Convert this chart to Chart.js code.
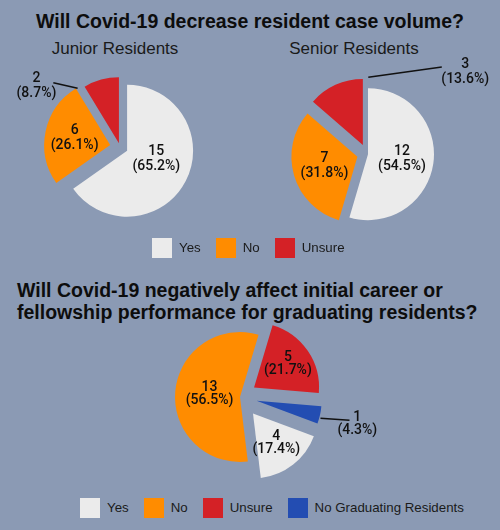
<!DOCTYPE html>
<html><head><meta charset="utf-8">
<script src="https://cdn.jsdelivr.net/npm/chart.js@4/dist/chart.umd.min.js"></script>
<style>
html,body{margin:0;padding:0;}
body{width:500px;height:530px;background:#8b9ab4;position:relative;overflow:hidden;font-family:"Liberation Sans",Arial,sans-serif;color:#141414;}
.abs{position:absolute;}
.title{font-weight:bold;font-size:19.5px;line-height:22px;white-space:nowrap;color:#0d0d0d;}
.sub{font-size:17px;line-height:20px;white-space:nowrap;color:#1a1a1a;}
canvas{position:absolute;}
.legend{position:absolute;display:flex;align-items:center;height:21px;font-size:13.3px;white-space:nowrap;color:#1a1a1a;}
.legend .box{width:20px;height:20px;margin-right:7px;}
.legend .item{display:flex;align-items:center;margin-right:15px;}
</style></head>
<body>
<div class="abs title" style="left:0;width:500px;text-align:center;top:10px;">Will Covid-19 decrease resident case volume?</div>
<div class="abs sub" style="left:15px;width:200px;text-align:center;top:39px;">Junior Residents</div>
<div class="abs sub" style="left:254px;width:200px;text-align:center;top:39px;">Senior Residents</div>
<div class="abs title" style="left:17px;top:279px;">Will Covid-19 negatively affect initial career or<br>fellowship performance for graduating residents?</div>
<canvas id="cJunior" width="240" height="190" style="left:0;top:52px;"></canvas>
<canvas id="cSenior" width="250" height="200" style="left:242px;top:54px;"></canvas>
<canvas id="cCareer" width="280" height="180" style="left:100px;top:307px;"></canvas>
<div class="legend" id="legend1" style="left:152px;top:237px;"></div>
<div class="legend" id="legend2" style="left:80px;top:497px;"></div>
<script>
// ---- data ----
const caseCategories = ['Yes', 'No', 'Unsure'];
const juniorValues = [15, 6, 2];
const seniorValues = [12, 7, 3];
const careerCategories = ['Yes', 'No', 'Unsure', 'No Graduating Residents'];
const careerValues = [4, 13, 5, 1];

// ---- styles ----
const sliceColors = {
  'Yes': '#ebebeb',
  'No': '#ff8c00',
  'Unsure': '#d42126',
  'No Graduating Residents': '#234db2'
};
const labelFont = '500 14px Roboto, "Liberation Sans", sans-serif';

function buildLegend(el, cats) {
  cats.forEach(c => {
    const item = document.createElement('div');
    item.className = 'item';
    const box = document.createElement('div');
    box.className = 'box';
    box.style.background = sliceColors[c];
    const txt = document.createElement('span');
    txt.textContent = c;
    item.appendChild(box); item.appendChild(txt);
    el.appendChild(item);
  });
}
buildLegend(document.getElementById('legend1'), caseCategories);
buildLegend(document.getElementById('legend2'), careerCategories);

function explodePlugin(amounts) {
  return {
    id: 'explodeSlices',
    afterDatasetUpdate(chart, args) {
      args.meta.data.forEach((arc, i) => {
        const t = amounts[i] || 0;
        const mid = (arc.startAngle + arc.endAngle) / 2;
        arc.x += Math.cos(mid) * t;
        arc.y += Math.sin(mid) * t;
      });
    }
  };
}

function labelPlugin(cfg) {
  return {
    id: 'sliceLabels',
    afterDatasetsDraw(chart) {
      const ctx = chart.ctx;
      const meta = chart.getDatasetMeta(0);
      const values = chart.data.datasets[0].data;
      const total = values.reduce((a, b) => a + b, 0);
      ctx.save();
      ctx.font = labelFont;
      ctx.fillStyle = '#111';
      ctx.strokeStyle = '#111';
      ctx.textAlign = 'center';
      ctx.textBaseline = 'middle';
      meta.data.forEach((arc, i) => {
        const v = values[i];
        const lines = [String(v), '(' + (v / total * 100).toFixed(1) + '%)'];
        const r = arc.outerRadius;
        const at = (deg, f) => {
          const a = deg * Math.PI / 180;
          return [arc.x + Math.sin(a) * r * f, arc.y - Math.cos(a) * r * f];
        };
        let pos;
        const out = cfg.outside[i];
        if (out) {
          const p1 = at(out.lineFrom[0], out.lineFrom[1]);
          const p2 = at(out.lineTo[0], out.lineTo[1]);
          ctx.beginPath();
          ctx.moveTo(p1[0], p1[1]);
          ctx.lineTo(p2[0], p2[1]);
          ctx.lineWidth = 1.5;
          ctx.stroke();
          pos = at(out.text[0], out.text[1]);
        } else {
          const mid = (arc.startAngle + arc.endAngle) / 2 + ((cfg.shift && cfg.shift[i]) || 0) * Math.PI / 180;
          const f = cfg.radius[i];
          pos = [arc.x + Math.cos(mid) * r * f, arc.y + Math.sin(mid) * r * f];
        }
        const lh = cfg.lineHeight;
        ctx.fillText(lines[0], pos[0], pos[1] - lh / 2);
        ctx.fillText(lines[1], pos[0], pos[1] + lh / 2);
      });
      ctx.restore();
    }
  };
}

function makePie(id, cats, values, opt) {
  return new Chart(document.getElementById(id), {
    type: 'pie',
    data: {
      labels: cats,
      datasets: [{
        data: values,
        backgroundColor: cats.map(c => sliceColors[c]),
        borderWidth: 0
      }]
    },
    options: {
      responsive: false,
      maintainAspectRatio: false,
      animation: false,
      radius: opt.radius,
      rotation: opt.rotation,
      layout: { padding: 0 },
      events: [],
      plugins: {
        legend: { display: false },
        tooltip: { enabled: false },
        title: { display: false }
      }
    },
    plugins: [explodePlugin(opt.explode), labelPlugin(opt.labels)]
  });
}

makePie('cJunior', caseCategories, juniorValues, {
  radius: 66, rotation: 0,
  explode: [8, 10, 4],
  labels: {
    lineHeight: 15,
    radius: [0.46, 0.55, 0.5],
    shift: [-11.6, 0, 0],
    outside: { 2: { lineFrom: [323, 1.04], lineTo: [312.6, 1.35], text: [304.7, 1.52] } }
  }
});

makePie('cSenior', caseCategories, seniorValues, {
  radius: 66, rotation: 0,
  explode: [1, 10, 10],
  labels: {
    lineHeight: 15,
    radius: [0.52, 0.52, 0.5],
    outside: { 2: { lineFrom: [4.6, 1.03], lineTo: [45.4, 1.68], text: [54.7, 1.9] } }
  }
});

makePie('cCareer', careerCategories, careerValues, {
  radius: 65, rotation: 110.5,
  explode: [21, 0, 17, 17],
  labels: {
    lineHeight: 13,
    radius: [0.58, 0.47, 0.63, 0.5],
    outside: { 3: { lineFrom: [105.4, 1.02], lineTo: [101.8, 1.46], text: [102.9, 1.59] } }
  }
});
</script>
</body></html>
